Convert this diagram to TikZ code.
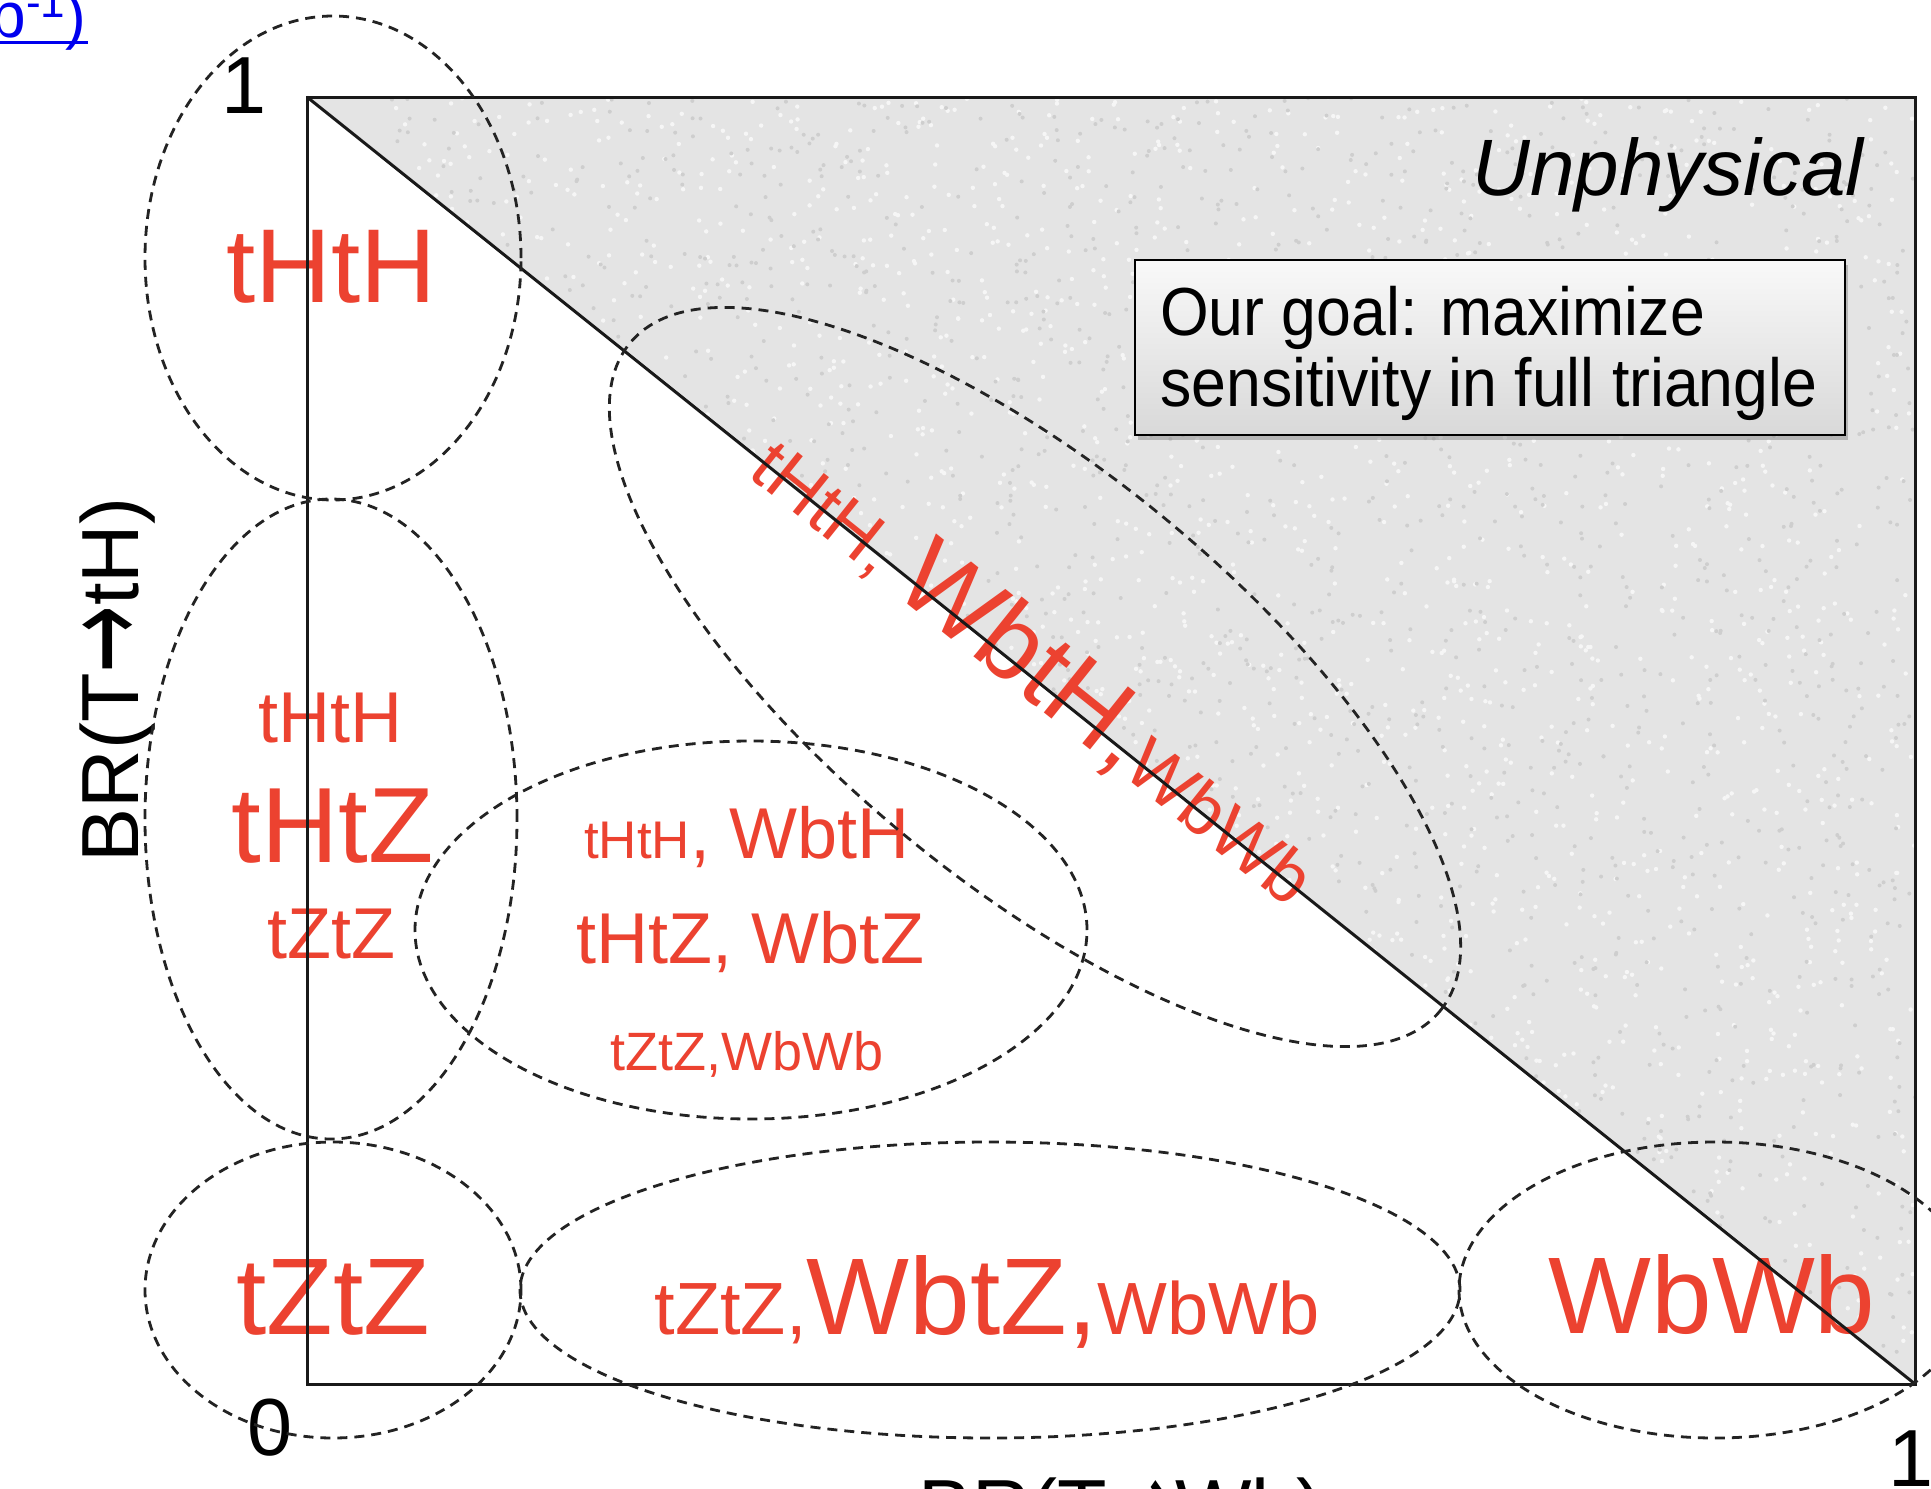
\documentclass[tikz,border=0pt]{standalone}
\usepackage{fontspec}
\setmainfont{Liberation Sans}
\newfontfamily\djv{DejaVu Sans}
\usetikzlibrary{shadows}
\definecolor{redc}{RGB}{236,66,48}
\definecolor{bgc}{RGB}{228,228,228}
\definecolor{dotd}{RGB}{206,206,206}
\definecolor{dotl}{RGB}{246,246,246}
\definecolor{dashc}{RGB}{35,35,35}
\definecolor{framec}{RGB}{25,25,25}
\definecolor{linkc}{RGB}{0,0,238}
\newcommand\FS[1]{\fontsize{#1}{#1}\selectfont}
\newcommand\bigarrow{\raisebox{-6pt}{\scalebox{1}[1.45]{\djv →}}}
\begin{document}
\begin{tikzpicture}[x=1pt,y=-1pt,
  redlbl/.style={text=redc, inner sep=0pt, anchor=base},
  blk/.style={text=black, inner sep=0pt, anchor=base},
  zone/.style={draw=dashc, line width=2.8pt, dash pattern=on 10pt off 7pt},
  frameline/.style={draw=framec, line width=3pt}]
\useasboundingbox (0,0) rectangle (1931,1489);
\clip (0,0) rectangle (1931,1489);
\fill[white] (0,0) rectangle (1931,1489);
% textured unphysical triangle
\begin{scope}
  \clip (307,97) -- (1915,97) -- (1915,1384) -- cycle;
  \fill[bgc] (307,97) -- (1915,97) -- (1915,1384) -- cycle;
  \pgfmathsetseed{7}
  \foreach \i in {1,...,3000}{
    \pgfmathsetmacro\px{307+rnd*1608}
    \pgfmathsetmacro\py{97+rnd*1287}
    \fill[dotl] (\px,\py) circle[radius=2.2pt];
  }
  \foreach \i in {1,...,2500}{
    \pgfmathsetmacro\px{307+rnd*1608}
    \pgfmathsetmacro\py{97+rnd*1287}
    \fill[dotd] (\px,\py) circle[radius=2pt];
  }
\end{scope}
% link remnant
\node[text=linkc, inner sep=0pt, anchor=base east] (link) at (86,37) {{\FS{64}b}\raisebox{20pt}{\FS{44}-1}{\FS{62})}};
\draw[linkc, line width=3pt] (0,42) -- (88,42);
% goal box
\node[draw=black, line width=2pt, top color=gray!5, bottom color=gray!30,
  drop shadow={opacity=0.45, shadow xshift=3pt, shadow yshift=-5pt},
  minimum width=710pt, minimum height=175pt, anchor=north west, inner sep=0pt] (goal) at (1134,259) {};
\node[blk, anchor=base west, font={\FS{68}}] (goal1) at (1160,335) {\scalebox{0.92}[1]{Our goal: maximize}};
\node[blk, anchor=base west, font={\FS{68}}] (goal2) at (1160,406) {\scalebox{0.92}[1]{sensitivity in full triangle}};
\node[blk, font={\FS{80}\itshape}] (unph) at (1668,195) {Unphysical};
% axis numbers and labels
\node[blk, font={\FS{81}}] (one1) at (244,113) {1};
\node[blk, font={\FS{81}}] (zero) at (270,1455) {0};
\node[blk, font={\FS{81}}] (one2) at (1911,1486) {1};
\node[blk, font={\FS{81}}, rotate=90] (ylab) at (138,680) {BR(T\bigarrow tH)};
\node[blk, font={\FS{81}}] (xlab) at (1121,1536) {BR(T\bigarrow Wb)};
% red labels
\node[redlbl, font={\FS{105}}] (hh) at (331,302) {tHtH};
\node[redlbl, font={\FS{72}}] (ml1) at (330,742) {tHtH};
\node[redlbl, font={\FS{107}}] (ml2) at (333,862) {tHtZ};
\node[redlbl, font={\FS{72}}] (ml3) at (331,958) {tZtZ};
\node[redlbl] (c1) at (747,858) {{\FS{53}tHtH}{\FS{72}, WbtH}};
\node[redlbl, font={\FS{72}}] (c2) at (750,963) {tHtZ, WbtZ};
\node[redlbl, font={\FS{54}}] (c3) at (747,1070) {tZtZ,WbWb};
\node[redlbl, font={\FS{109}}] (zz) at (333,1334) {tZtZ};
\node[redlbl] (bm) at (987,1334) {{\FS{74}tZtZ,}{\FS{109}WbtZ,}{\FS{74}WbWb}};
\node[redlbl, font={\FS{109}}] (ww) at (1712,1333) {WbWb};
\node[redlbl, rotate=-38.67] (diag) at (1018,692) {{\FS{72}tHtH, }{\FS{106}WbtH,}{\FS{72}WbWb}};
% frame and diagonal
\draw[frameline] (307,97) rectangle (1915,1384);
\draw[frameline] (307,97) -- (1915,1384);
% dashed regions
\draw[zone] (333,258) ellipse [x radius=188pt, y radius=242pt];
\draw[zone] (331,819) ellipse [x radius=186pt, y radius=320pt];
\draw[zone] (333,1290) ellipse [x radius=188pt, y radius=148pt];
\draw[zone] (751,930) ellipse [x radius=336pt, y radius=189pt];
\draw[zone] (990,1290) ellipse [x radius=470pt, y radius=148pt];
\draw[zone] (1715,1290) ellipse [x radius=256pt, y radius=148pt];
\draw[zone, rotate around={-39.5:(1035,677)}] (1035,677) ellipse [x radius=525pt, y radius=205pt];
\end{tikzpicture}
\end{document}
